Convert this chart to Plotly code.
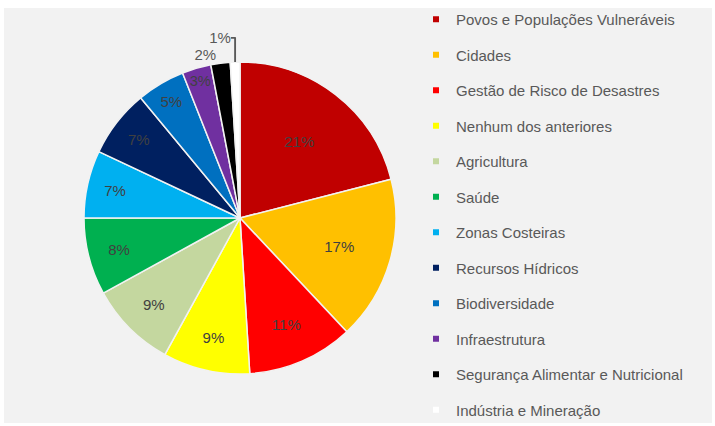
import plotly.graph_objects as go

# Categories, shares (%) and slice colours
categorias = [
    "Povos e Populações Vulneráveis",
    "Cidades",
    "Gestão de Risco de Desastres",
    "Nenhum dos anteriores",
    "Agricultura",
    "Saúde",
    "Zonas Costeiras",
    "Recursos Hídricos",
    "Biodiversidade",
    "Infraestrutura",
    "Segurança Alimentar e Nutricional",
    "Indústria e Mineração",
]
percentuais = [21, 17, 11, 9, 9, 8, 7, 7, 5, 3, 2, 1]
cores = [
    "#C00000", "#FFC000", "#FF0000", "#FFFF00", "#C4D79F", "#00B050",
    "#00B0F0", "#002060", "#0070C0", "#7030A0", "#000000", "#FFFFFF",
]
# small slices get their label outside the pie
posicao_texto = ["inside"] * 10 + ["outside", "outside"]

W, H = 715, 426
FONT = "Liberation Sans, Arial, sans-serif"

fig = go.Figure()

# pie: centre ~(240,218), radius ~156 px
cx, cy, r = 240, 218, 156
fig.add_trace(go.Pie(
    labels=categorias,
    values=percentuais,
    marker=dict(colors=cores, line=dict(color="#F2F2F2", width=1.5)),
    sort=False,
    direction="clockwise",
    rotation=0,
    textinfo="percent",
    textposition=posicao_texto,
    insidetextorientation="horizontal",
    textfont=dict(family=FONT, size=15, color="#404040"),
    outsidetextfont=dict(family=FONT, size=15, color="#595959"),
    domain=dict(x=[(cx - r) / W, (cx + r) / W], y=[1 - (cy + r) / H, 1 - (cy - r) / H]),
    showlegend=False,
    hoverinfo="label+percent",
))

# legend entries, one group each so the rows are spaced out
for i, (nome, cor) in enumerate(zip(categorias, cores)):
    fig.add_trace(go.Scatter(
        x=[None], y=[None], mode="markers", name=nome,
        marker=dict(symbol="square", size=6, color=cor),
        legendgroup=f"g{i}", showlegend=True, hoverinfo="skip",
    ))

fig.update_layout(
    width=W, height=H,
    margin=dict(l=0, r=0, t=0, b=0),
    paper_bgcolor="#FFFFFF",
    plot_bgcolor="rgba(0,0,0,0)",
    xaxis=dict(visible=False, domain=[0, 1]),
    yaxis=dict(visible=False, domain=[0, 1]),
    showlegend=True,
    legend=dict(
        x=416 / W, y=1 - 6 / H, xanchor="left", yanchor="top",
        font=dict(family=FONT, size=15, color="#595959"),
        bgcolor="rgba(0,0,0,0)",
        tracegroupgap=13,
        itemwidth=30,
        traceorder="grouped",
    ),
    shapes=[dict(
        type="rect", xref="paper", yref="paper", layer="below",
        x0=4 / W, x1=712 / W, y0=1 - 423 / H, y1=1 - 8 / H,
        fillcolor="#F2F2F2", line=dict(width=0),
    )],
)

fig.write_html("out.html")
